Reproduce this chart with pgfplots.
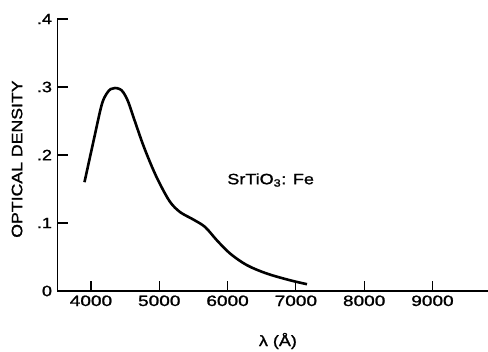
\documentclass[border=0pt]{standalone}
\usepackage{graphicx}
\usepackage{fontspec}
\setmainfont{Liberation Sans}[FakeBold=1.2]
\usepackage{pgfplots}
\pgfplotsset{compat=1.18}
\newcommand\WX[1]{\scalebox{1.27}[1]{#1}}
\newcommand\WY[1]{\scalebox{1.2}[1]{#1}}
\begin{document}
\begin{tikzpicture}[x=1pt,y=1pt]
\path[use as bounding box] (0,0) rectangle (488,352);
\begin{axis}[
  at={(57.5pt,61pt)}, anchor=south west,
  scale only axis, width=430.5pt, height=272pt,
  xmin=3510, xmax=9813, ymin=0, ymax=0.4,
  axis lines=left,
  x axis line style={-, line width=1.6pt},
  y axis line style={-, line width=1.6pt},
  xtick={4000,5000,6000,7000,8000,9000},
  xticklabel={\WX{\pgfmathprintnumber[fixed,1000 sep={}]{\tick}}},
  ytick={0,0.1,0.2,0.3,0.4},
  yticklabels={\WY{0},\WY{.1},\WY{.2},\WY{.3},\WY{.4}},
  tick align=inside,
  major tick length=10pt,
  every tick/.style={black, line width=1.2pt},
  /pgf/number format/assume math mode=true,
  tick label style={font=\fontsize{15}{18}\selectfont},
  xticklabel style={yshift=-1pt},
  yticklabel style={xshift=-2pt},
  xlabel={\WY{λ (Å)}},
  ylabel={\scalebox{1.18}[1]{OPTICAL DENSITY}},
  label style={font=\fontsize{15}{18}\selectfont},
  xlabel style={at={(axis description cs:0.512,-0.184)}, anchor=center},
  ylabel style={at={(axis description cs:-0.094,0.485)}, anchor=center},
  clip=false,
]
\addplot[black, line width=2.6pt, smooth, tension=0.55] coordinates {
(3905,0.160) (4034,0.219) (4155,0.273) (4228,0.290) (4290,0.297)
(4352,0.2985) (4420,0.297) (4474,0.292) (4546,0.278) (4645,0.249)
(4767,0.214) (4900,0.181) (5012,0.157) (5158,0.131) (5305,0.116)
(5500,0.105) (5672,0.094) (5843,0.0746) (6038,0.055) (6283,0.038)
(6576,0.0256) (6918,0.0157) (7163,0.010)
};
\node[anchor=base west, inner sep=0pt, font=\fontsize{15}{18}\selectfont] at (axis cs:5994,0.157) {\WY{SrTiO\textsubscript{3}: Fe}};
\end{axis}
\end{tikzpicture}
\end{document}
